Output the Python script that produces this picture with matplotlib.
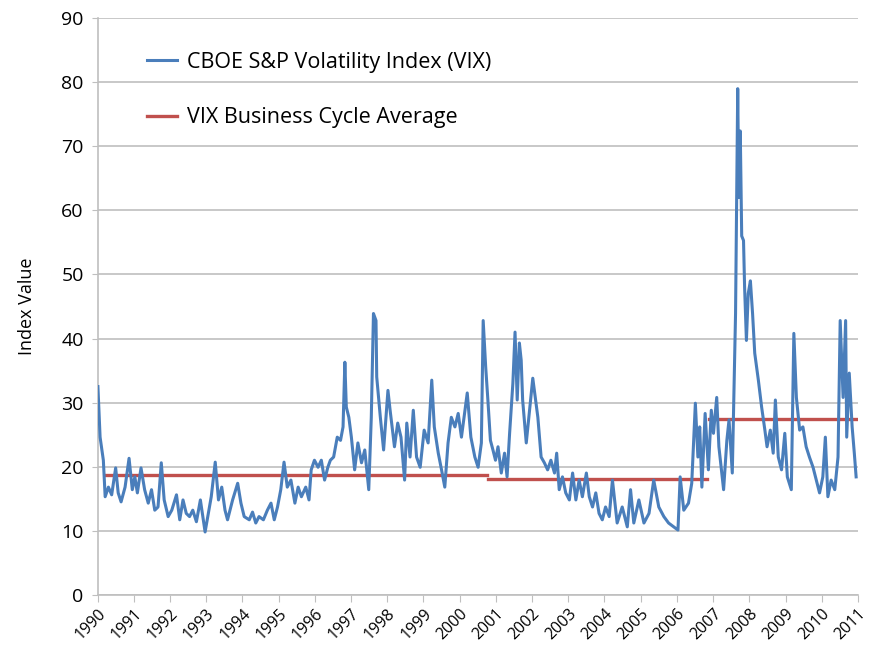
import numpy as np
import matplotlib.pyplot as plt

plt.rcParams['font.family'] = ['Open Sans', 'DejaVu Sans']

# VIX (decimal year, index value)
vix_year = [
    1990.01, 1990.07, 1990.16, 1990.21, 1990.30, 1990.39, 1990.50, 1990.57, 1990.65, 1990.76,
    1990.87, 1990.96, 1991.03, 1991.10, 1991.20, 1991.30, 1991.40, 1991.49, 1991.58, 1991.67,
    1991.76, 1991.84, 1991.95, 1992.05, 1992.18, 1992.27, 1992.36, 1992.45, 1992.54, 1992.63,
    1992.73, 1992.84, 1992.97, 1993.06, 1993.14, 1993.25, 1993.34, 1993.43, 1993.52, 1993.59,
    1993.73, 1993.87, 1993.96, 1994.05, 1994.19, 1994.28, 1994.37, 1994.46, 1994.58, 1994.69,
    1994.79, 1994.88, 1994.97, 1995.06, 1995.15, 1995.24, 1995.34, 1995.45, 1995.54, 1995.63,
    1995.75, 1995.84, 1995.90, 1995.99, 1996.09, 1996.18, 1996.27, 1996.36, 1996.43, 1996.52,
    1996.62, 1996.71, 1996.78, 1996.83, 1996.87, 1996.94, 1997.01, 1997.10, 1997.19, 1997.29,
    1997.38, 1997.49, 1997.56, 1997.62, 1997.69, 1997.71, 1997.81, 1997.90, 1998.02, 1998.08,
    1998.20, 1998.29, 1998.38, 1998.48, 1998.54, 1998.63, 1998.72, 1998.81, 1998.91, 1999.02,
    1999.13, 1999.23, 1999.30, 1999.41, 1999.50, 1999.59, 1999.68, 1999.77, 1999.87, 1999.96,
    2000.05, 2000.21, 2000.31, 2000.42, 2000.51, 2000.60, 2000.65, 2000.72, 2000.78, 2000.85,
    2000.92, 2000.99, 2001.06, 2001.15, 2001.24, 2001.31, 2001.38, 2001.47, 2001.53, 2001.59,
    2001.65, 2001.70, 2001.74, 2001.84, 2001.93, 2002.02, 2002.09, 2002.16, 2002.25, 2002.34,
    2002.43, 2002.52, 2002.62, 2002.68, 2002.75, 2002.84, 2002.93, 2003.03, 2003.12, 2003.21,
    2003.30, 2003.39, 2003.50, 2003.58, 2003.67, 2003.76, 2003.85, 2003.94, 2004.03, 2004.13,
    2004.22, 2004.35, 2004.49, 2004.63, 2004.72, 2004.81, 2004.95, 2005.09, 2005.23, 2005.36,
    2005.50, 2005.64, 2005.77, 2005.91, 2006.03, 2006.09, 2006.19, 2006.32, 2006.41, 2006.51,
    2006.58, 2006.63, 2006.69, 2006.78, 2006.87, 2006.95, 2007.01, 2007.10, 2007.16, 2007.29,
    2007.38, 2007.44, 2007.53, 2007.62, 2007.68, 2007.71, 2007.75, 2007.79, 2007.84, 2007.87,
    2007.92, 2007.97, 2008.03, 2008.09, 2008.15, 2008.25, 2008.34, 2008.43, 2008.49, 2008.58,
    2008.66, 2008.72, 2008.80, 2008.89, 2008.98, 2009.05, 2009.16, 2009.23, 2009.30, 2009.39,
    2009.48, 2009.57, 2009.66, 2009.76, 2009.85, 2009.94, 2010.03, 2010.10, 2010.17, 2010.26,
    2010.36, 2010.45, 2010.51, 2010.59, 2010.66, 2010.69, 2010.76, 2010.84, 2010.90, 2010.95,
]
vix_value = [
    32.5, 24.6, 21.0, 15.3, 16.8, 15.6, 19.8, 15.9, 14.5, 16.8,
    21.3, 16.4, 18.4, 15.9, 19.8, 16.4, 14.3, 16.4, 13.2, 13.7,
    20.6, 14.8, 12.2, 13.2, 15.6, 11.7, 14.8, 12.7, 12.2, 13.2,
    11.4, 14.8, 9.8, 12.7, 15.3, 20.7, 14.8, 16.8, 13.2, 11.7,
    14.8, 17.4, 14.3, 12.2, 11.7, 12.9, 11.2, 12.2, 11.7, 13.2,
    14.3, 11.7, 13.7, 16.4, 20.7, 16.8, 17.9, 14.3, 16.8, 15.3,
    16.8, 14.8, 19.5, 21.0, 19.9, 21.0, 17.9, 19.9, 21.0, 21.5,
    24.6, 24.1, 26.2, 36.3, 29.3, 27.7, 24.6, 19.5, 23.7, 20.6,
    22.6, 16.4, 27.7, 43.9, 42.8, 34.0, 27.7, 22.6, 31.9, 28.8,
    23.1, 26.8, 24.6, 17.9, 26.8, 21.5, 28.8, 21.5, 19.9, 25.7,
    23.7, 33.5, 26.2, 22.1, 19.5, 16.8, 23.7, 27.7, 26.2, 28.3,
    24.6, 31.5, 24.6, 21.5, 19.9, 23.7, 42.8, 35.5, 30.4, 24.1,
    22.6, 21.0, 23.1, 19.0, 22.1, 18.4, 25.2, 33.0, 41.0, 30.4,
    39.3, 36.6, 30.4, 23.7, 28.8, 33.8, 30.8, 27.7, 21.5, 20.6,
    19.5, 21.0, 19.0, 22.1, 16.4, 18.4, 15.9, 14.8, 19.0, 14.8,
    17.9, 15.3, 19.0, 15.3, 13.7, 15.9, 12.7, 11.7, 13.7, 12.2,
    17.9, 11.2, 13.7, 10.6, 16.4, 11.2, 14.8, 11.2, 12.7, 17.9,
    13.7, 12.2, 11.2, 10.6, 10.1, 18.4, 13.2, 14.3, 17.4, 29.9,
    21.5, 26.2, 16.8, 28.3, 19.5, 28.8, 25.2, 30.8, 23.1, 16.4,
    24.1, 27.3, 19.0, 43.9, 79.0, 62.0, 72.4, 56.0, 55.3, 48.0,
    39.7, 47.0, 49.0, 43.9, 37.7, 33.5, 29.3, 25.7, 23.1, 25.7,
    22.1, 30.4, 21.5, 19.5, 25.2, 18.4, 16.4, 40.8, 30.8, 25.7,
    26.2, 23.1, 21.5, 19.9, 17.9, 15.9, 18.4, 24.6, 15.3, 17.9,
    16.4, 21.5, 42.8, 30.8, 42.8, 24.6, 34.6, 26.2, 22.1, 18.4,
]

# business cycle averages
avg_start = [1990.22, 2000.78, 2006.89]
avg_end = [2000.76, 2006.83, 2010.95]
avg_value = [18.7, 18.1, 27.4]

years = list(range(1990, 2012))

fig, ax = plt.subplots(figsize=(8.71, 6.5), dpi=100)
fig.subplots_adjust(left=0.112, right=0.985, bottom=0.085, top=0.972)

ax.plot(vix_year, vix_value, color='#4A7EBB', lw=2.2,
        label='CBOE S&P Volatility Index (VIX)', zorder=3)
for i in range(len(avg_value)):
    ax.plot([avg_start[i], avg_end[i]], [avg_value[i], avg_value[i]],
            color='#C0504D', lw=2.4, zorder=2,
            label='VIX Business Cycle Average' if i == 0 else None)

ax.set_xlim(1990, 2011)
ax.set_ylim(0, 90)
ax.set_yticks(range(0, 91, 10))
ax.set_xticks(years)
ax.set_xticklabels([str(y) for y in years], rotation=45, ha='right', va='top',
                   rotation_mode='anchor', fontsize=11.5)
ax.tick_params(axis='y', labelsize=14, length=4, color='#BFBFBF', pad=6)
ax.tick_params(axis='x', length=5, color='#BFBFBF', pad=3)
ax.set_ylabel('Index Value', fontsize=13, labelpad=18)

ax.grid(axis='y', color='#BFBFBF', lw=1.2)
ax.set_axisbelow(True)
for s in ['top', 'right']:
    ax.spines[s].set_visible(False)
for s in ['left', 'bottom']:
    ax.spines[s].set_color('#BFBFBF')
    ax.spines[s].set_linewidth(1.2)

ax.legend(loc='upper left', bbox_to_anchor=(0.04, 0.975), frameon=False,
          fontsize=15.5, handlelength=1.4, labelspacing=1.6, handletextpad=0.45)

plt.savefig('out.png')
